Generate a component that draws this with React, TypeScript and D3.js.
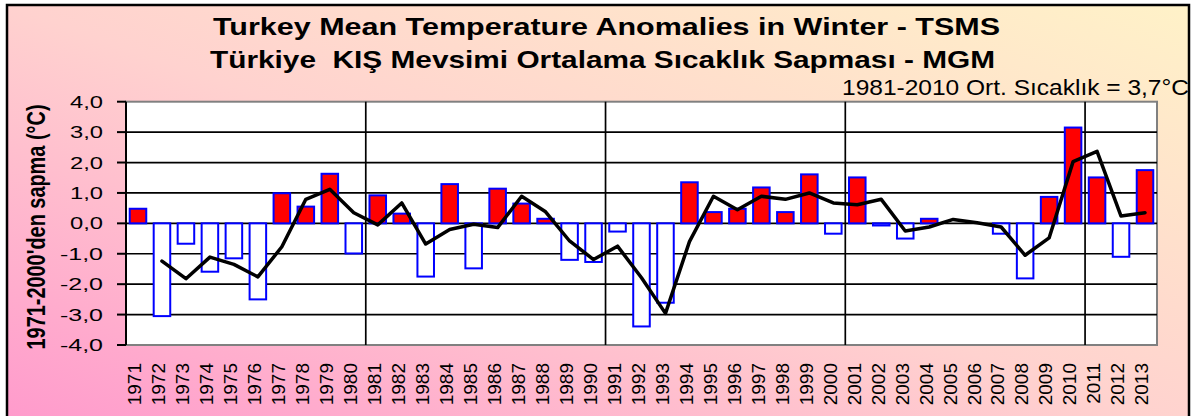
import React from "react";
import * as d3 from "d3";

const years: string[] = [
  "1971","1972","1973","1974","1975","1976","1977","1978","1979","1980",
  "1981","1982","1983","1984","1985","1986","1987","1988","1989","1990",
  "1991","1992","1993","1994","1995","1996","1997","1998","1999","2000",
  "2001","2002","2003","2004","2005","2006","2007","2008","2009","2010",
  "2011","2012","2013",
];

const anomalies: number[] = [
  0.48, -3.05, -0.67, -1.59, -1.15, -2.5, 0.99, 0.55, 1.63, -0.99,
  0.92, 0.32, -1.75, 1.29, -1.48, 1.14, 0.65, 0.15, -1.2, -1.27,
  -0.27, -3.39, -2.61, 1.35, 0.37, 0.48, 1.18, 0.37, 1.61, -0.34,
  1.51, -0.07, -0.5, 0.15, 0, 0, -0.34, -1.81, 0.87, 3.15,
  1.51, -1.1, 1.75,
];

// 2-period moving average line (none for 1971)
const movingAvg: (number | null)[] = [
  null, -1.24, -1.82, -1.11, -1.35, -1.76, -0.77, 0.79, 1.12, 0.35,
  -0.05, 0.67, -0.68, -0.2, -0.03, -0.14, 0.89, 0.38, -0.58, -1.19,
  -0.75, -1.79, -2.96, -0.6, 0.89, 0.45, 0.89, 0.79, 1.0, 0.67,
  0.61, 0.79, -0.25, -0.12, 0.13, 0.02, -0.12, -1.05, -0.48, 2.03,
  2.37, 0.24, 0.35,
];

const yTicks: number[] = [4, 3, 2, 1, 0, -1, -2, -3, -4];

const titleLines: string[] = [
  "Turkey Mean Temperature Anomalies in Winter - TSMS",
  "Türkiye  KIŞ Mevsimi Ortalama Sıcaklık Sapması - MGM",
];
const subtitle = "1981-2010 Ort. Sıcaklık = 3,7°C";
const yAxisTitle = "1971-2000'den sapma (°C)";

const W = 1196;
const H = 416;
const FONT = "'Liberation Sans', Arial, sans-serif";

export default function App() {
  const left = 126, right = 1157, top = 101.7, bottom = 345;
  const x = d3.scaleBand<string>().domain(years).range([left, right]).paddingInner(0.31).paddingOuter(0.155);
  const y = d3.scaleLinear().domain([-4, 4]).range([bottom, top]);
  const step = x.step();
  const bw = x.bandwidth();
  const cx = (yr: string) => (x(yr) as number) + bw / 2;

  const lineGen = d3
    .line<number | null>()
    .defined((d) => d !== null)
    .x((_, i) => cx(years[i]))
    .y((d) => y(d as number))
    .curve(d3.curveLinear);

  const decadeLines = [10, 20, 30, 40].map((i) => left + i * step);

  return (
    <svg width={W} height={H} style={{ position: "absolute", left: 0, top: 0 }} fontFamily={FONT}>
      <defs>
        <linearGradient id="bg" x1="0" y1="1" x2="1" y2="0">
          <stop offset="0" stopColor="#ff99cc" />
          <stop offset="0.5" stopColor="#ffd2cf" />
          <stop offset="1" stopColor="#fff2c8" />
        </linearGradient>
      </defs>
      <rect x={0} y={0} width={W} height={H} fill="#ffffff" />
      <rect x={7} y={5} width={1182} height={H + 10} fill="url(#bg)" stroke="#000" strokeWidth={2.5} />

      {/* titles */}
      <text x={213} y={35} fontSize={24} fontWeight="bold" textLength={787} lengthAdjust="spacingAndGlyphs" style={{ whiteSpace: "pre" }}>
        {titleLines[0]}
      </text>
      <text x={210} y={68} fontSize={24} fontWeight="bold" textLength={785} lengthAdjust="spacingAndGlyphs" style={{ whiteSpace: "pre" }}>
        {titleLines[1]}
      </text>
      <text x={842} y={94.5} fontSize={22.5} textLength={347} lengthAdjust="spacingAndGlyphs">
        {subtitle}
      </text>

      {/* plot area */}
      <rect x={left} y={top} width={right - left} height={bottom - top} fill="#ffffff" stroke="#808080" strokeWidth={2} />

      {/* horizontal gridlines */}
      {yTicks.filter((t) => t !== 4 && t !== -4).map((t) => (
        <line key={"g" + t} x1={left} x2={right} y1={y(t)} y2={y(t)} stroke="#000" strokeWidth={1.7} />
      ))}
      {/* decade vertical lines */}
      {decadeLines.map((dx, i) => (
        <line key={"v" + i} x1={dx} x2={dx} y1={top} y2={bottom} stroke="#000" strokeWidth={1.7} />
      ))}

      {/* bars */}
      {anomalies.map((v, i) => {
        if (v === 0) return null;
        const y0 = y(0);
        const y1 = y(v);
        return (
          <rect
            key={"b" + i}
            x={x(years[i])}
            y={Math.min(y0, y1)}
            width={bw}
            height={Math.abs(y1 - y0)}
            fill={v > 0 ? "#ff0000" : "#ffffff"}
            stroke="#0000ff"
            strokeWidth={2}
          />
        );
      })}

      {/* moving average line */}
      <path d={lineGen(movingAvg) || ""} fill="none" stroke="#000" strokeWidth={3.5} strokeLinejoin="round" strokeLinecap="round" />

      {/* left axis */}
      <line x1={left} x2={left} y1={top} y2={bottom} stroke="#000" strokeWidth={2} />
      {yTicks.map((t) => {
        const label = d3.format(".1f")(t).replace(".", ",").replace("−", "-");
        const len = t < 0 ? 43 : 33;
        return (
          <g key={"t" + t}>
            <line x1={left - 9} x2={left} y1={y(t)} y2={y(t)} stroke="#000" strokeWidth={2} />
            <text x={103 - len} y={y(t)} dy="0.36em" fontSize={17} textLength={len} lengthAdjust="spacingAndGlyphs">
              {label}
            </text>
          </g>
        );
      })}

      {/* y axis title */}
      <text
        transform={`translate(36,227) scale(1.25,1) rotate(-90)`}
        textAnchor="middle"
        dy="0.36em"
        fontSize={20}
        fontWeight="bold"
        textLength={245}
        lengthAdjust="spacingAndGlyphs"
      >
        {yAxisTitle}
      </text>

      {/* x labels */}
      {years.map((yr) => (
        <text
          key={"x" + yr}
          transform={`translate(${cx(yr) - 3.5},363) rotate(-90)`}
          textAnchor="end"
          dy="0.36em"
          fontSize={19}
        >
          {yr}
        </text>
      ))}
    </svg>
  );
}
